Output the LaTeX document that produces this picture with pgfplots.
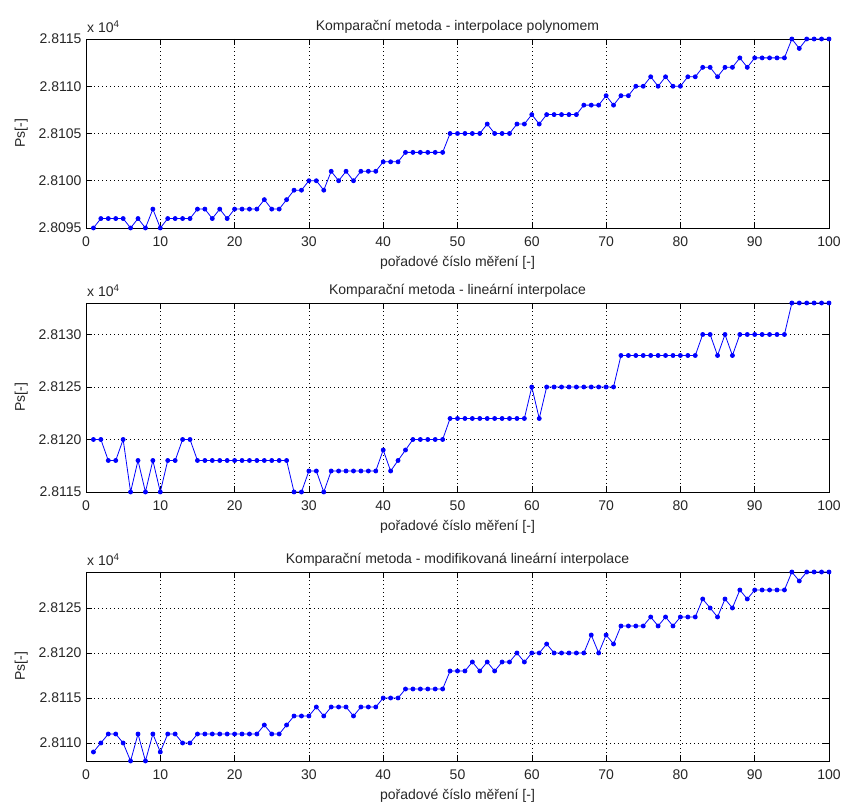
\documentclass[border=0pt]{standalone}
\usepackage{fontspec}
\setmainfont{Liberation Sans}
\usepackage{pgfplots}
\usepackage{pgfplotstable}
\pgfplotsset{compat=1.18}

% Komparační metoda - interpolace polynomem
\pgfplotstableread{
n ps
1 28095
2 28096
3 28096
4 28096
5 28096
6 28095
7 28096
8 28095
9 28097
10 28095
11 28096
12 28096
13 28096
14 28096
15 28097
16 28097
17 28096
18 28097
19 28096
20 28097
21 28097
22 28097
23 28097
24 28098
25 28097
26 28097
27 28098
28 28099
29 28099
30 28100
31 28100
32 28099
33 28101
34 28100
35 28101
36 28100
37 28101
38 28101
39 28101
40 28102
41 28102
42 28102
43 28103
44 28103
45 28103
46 28103
47 28103
48 28103
49 28105
50 28105
51 28105
52 28105
53 28105
54 28106
55 28105
56 28105
57 28105
58 28106
59 28106
60 28107
61 28106
62 28107
63 28107
64 28107
65 28107
66 28107
67 28108
68 28108
69 28108
70 28109
71 28108
72 28109
73 28109
74 28110
75 28110
76 28111
77 28110
78 28111
79 28110
80 28110
81 28111
82 28111
83 28112
84 28112
85 28111
86 28112
87 28112
88 28113
89 28112
90 28113
91 28113
92 28113
93 28113
94 28113
95 28115
96 28114
97 28115
98 28115
99 28115
100 28115
}\polytab

% Komparační metoda - lineární interpolace
\pgfplotstableread{
n ps
1 28120
2 28120
3 28118
4 28118
5 28120
6 28115
7 28118
8 28115
9 28118
10 28115
11 28118
12 28118
13 28120
14 28120
15 28118
16 28118
17 28118
18 28118
19 28118
20 28118
21 28118
22 28118
23 28118
24 28118
25 28118
26 28118
27 28118
28 28115
29 28115
30 28117
31 28117
32 28115
33 28117
34 28117
35 28117
36 28117
37 28117
38 28117
39 28117
40 28119
41 28117
42 28118
43 28119
44 28120
45 28120
46 28120
47 28120
48 28120
49 28122
50 28122
51 28122
52 28122
53 28122
54 28122
55 28122
56 28122
57 28122
58 28122
59 28122
60 28125
61 28122
62 28125
63 28125
64 28125
65 28125
66 28125
67 28125
68 28125
69 28125
70 28125
71 28125
72 28128
73 28128
74 28128
75 28128
76 28128
77 28128
78 28128
79 28128
80 28128
81 28128
82 28128
83 28130
84 28130
85 28128
86 28130
87 28128
88 28130
89 28130
90 28130
91 28130
92 28130
93 28130
94 28130
95 28133
96 28133
97 28133
98 28133
99 28133
100 28133
}\lintab

% Komparační metoda - modifikovaná lineární interpolace
\pgfplotstableread{
n ps
1 28109
2 28110
3 28111
4 28111
5 28110
6 28108
7 28111
8 28108
9 28111
10 28109
11 28111
12 28111
13 28110
14 28110
15 28111
16 28111
17 28111
18 28111
19 28111
20 28111
21 28111
22 28111
23 28111
24 28112
25 28111
26 28111
27 28112
28 28113
29 28113
30 28113
31 28114
32 28113
33 28114
34 28114
35 28114
36 28113
37 28114
38 28114
39 28114
40 28115
41 28115
42 28115
43 28116
44 28116
45 28116
46 28116
47 28116
48 28116
49 28118
50 28118
51 28118
52 28119
53 28118
54 28119
55 28118
56 28119
57 28119
58 28120
59 28119
60 28120
61 28120
62 28121
63 28120
64 28120
65 28120
66 28120
67 28120
68 28122
69 28120
70 28122
71 28121
72 28123
73 28123
74 28123
75 28123
76 28124
77 28123
78 28124
79 28123
80 28124
81 28124
82 28124
83 28126
84 28125
85 28124
86 28126
87 28125
88 28127
89 28126
90 28127
91 28127
92 28127
93 28127
94 28127
95 28129
96 28128
97 28129
98 28129
99 28129
100 28129
}\modtab

\definecolor{mblue}{rgb}{0,0,1}

\pgfplotsset{
  panel/.style={
    scale only axis,
    width=743pt, height=189pt,
    xmin=0, xmax=100,
    xtick={0,10,...,100},
    scaled y ticks=false,
    clip mode=individual,
    /pgf/number format/assume math mode=true,
    tick align=inside,
    major tick length=6pt,
    tick style={black, line width=0.6pt},
    axis line style={black, line width=0.8pt},
    grid=major,
    major grid style={black, line width=0.6pt, dash pattern=on 1pt off 3pt},
    ticklabel style={font=\fontsize{14}{16}\selectfont, text=black!85},
    xticklabel style={yshift=-5pt},
    yticklabel style={xshift=-1pt},
    title style={font=\fontsize{14}{16}\selectfont, text=black!85, yshift=-4pt},
    xlabel style={font=\fontsize{14}{16}\selectfont, text=black!85, yshift=-3pt},
    ylabel style={font=\fontsize{14}{16}\selectfont, text=black!85, yshift=4pt},
    xlabel={pořadové číslo měření [-]},
    ylabel={Ps[-]},
  },
  series/.style={mblue, line width=0.8pt, mark=*, mark size=2pt,
    mark options={fill=mblue, draw=mblue}},
}

% exponent label written above the upper left corner of each axis
\newcommand{\powerlabel}{%
  \node[anchor=base west, font=\fontsize{14}{16}\selectfont, text=black!85,
        inner sep=0pt, xshift=1pt, yshift=6pt] at (rel axis cs:0,1)
        {x\ 10\textsuperscript{4}};}

\begin{document}
\begin{tikzpicture}
\useasboundingbox (0pt,0pt) rectangle (843pt,802pt);

\begin{axis}[panel, at={(86pt,574pt)}, anchor=south west,
  ymin=28095, ymax=28115,
  ytick={28095,28100,28105,28110,28115},
  yticklabels={2.8095,2.8100,2.8105,2.8110,2.8115},
  title={Komparační metoda - interpolace polynomem}]
  \addplot[series] table[x=n, y=ps] {\polytab};
  \powerlabel
\end{axis}

\begin{axis}[panel, at={(86pt,310pt)}, anchor=south west,
  ymin=28115, ymax=28133,
  ytick={28115,28120,28125,28130},
  yticklabels={2.8115,2.8120,2.8125,2.8130},
  title={Komparační metoda - lineární interpolace}]
  \addplot[series] table[x=n, y=ps] {\lintab};
  \powerlabel
\end{axis}

\begin{axis}[panel, at={(86pt,41pt)}, anchor=south west,
  ymin=28108, ymax=28129,
  ytick={28110,28115,28120,28125},
  yticklabels={2.8110,2.8115,2.8120,2.8125},
  title={Komparační metoda - modifikovaná lineární interpolace}]
  \addplot[series] table[x=n, y=ps] {\modtab};
  \powerlabel
\end{axis}
\end{tikzpicture}
\end{document}
